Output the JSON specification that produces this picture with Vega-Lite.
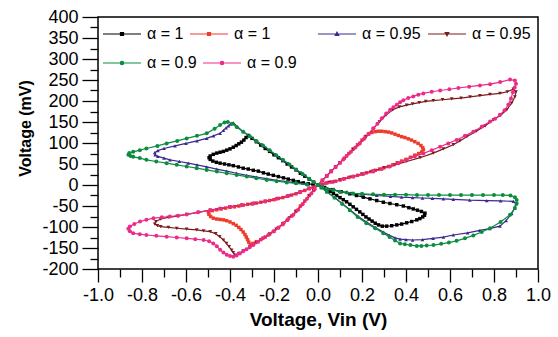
{
"$schema": "https://vega.github.io/schema/vega-lite/v6.json",
"width": 440, "height": 252,
"autosize": {"type": "none"},
"padding": {"left": 98, "top": 17, "right": 20, "bottom": 68},
"background": "white",
"config": {
 "view": {"stroke": "black", "strokeWidth": 1.5},
 "font": "Liberation Sans",
 "axis": {"grid": false, "domain": false, "tickColor": "black", "tickWidth": 1.3, "labelColor": "black", "labelFont": "Liberation Sans", "labelFontSize": 18, "titleColor": "black", "titleFont": "Liberation Sans", "titleFontWeight": "bold"},
 "legend": {"orient": "none", "direction": "horizontal", "padding": 0, "labelFont": "Liberation Sans", "labelFontSize": 16, "labelColor": "black", "labelOffset": 5, "columnPadding": 3, "symbolSize": 1444, "symbolStrokeWidth": 1.2, "title": null}
},
"datasets": {"d": [
{"s":"k","i":0,"x":0,"y":0},{"s":"k","i":1,"x":0.03,"y":-6},{"s":"k","i":2,"x":0.068,"y":-11},{"s":"k","i":3,"x":0.105,"y":-16},{"s":"k","i":4,"x":0.145,"y":-21},{"s":"k","i":5,"x":0.175,"y":-25},{"s":"k","i":6,"x":0.206,"y":-29},{"s":"k","i":7,"x":0.236,"y":-33},{"s":"k","i":8,"x":0.267,"y":-37},{"s":"k","i":9,"x":0.297,"y":-41},{"s":"k","i":10,"x":0.327,"y":-44},{"s":"k","i":11,"x":0.358,"y":-47},{"s":"k","i":12,"x":0.388,"y":-50},{"s":"k","i":13,"x":0.413,"y":-54},{"s":"k","i":14,"x":0.433,"y":-57},{"s":"k","i":15,"x":0.452,"y":-60},{"s":"k","i":16,"x":0.47,"y":-63},{"s":"k","i":17,"x":0.486,"y":-67},{"s":"k","i":18,"x":0.484,"y":-72},{"s":"k","i":19,"x":0.476,"y":-76},{"s":"k","i":20,"x":0.463,"y":-80},{"s":"k","i":21,"x":0.449,"y":-83},{"s":"k","i":22,"x":0.426,"y":-87},{"s":"k","i":23,"x":0.403,"y":-90},{"s":"k","i":24,"x":0.38,"y":-93},{"s":"k","i":25,"x":0.358,"y":-95},{"s":"k","i":26,"x":0.335,"y":-97},{"s":"k","i":27,"x":0.312,"y":-98},{"s":"k","i":28,"x":0.292,"y":-98},{"s":"k","i":29,"x":0.275,"y":-95},{"s":"k","i":30,"x":0.26,"y":-91},{"s":"k","i":31,"x":0.246,"y":-86},{"s":"k","i":32,"x":0.232,"y":-81},{"s":"k","i":33,"x":0.218,"y":-76},{"s":"k","i":34,"x":0.204,"y":-70},{"s":"k","i":35,"x":0.19,"y":-64},{"s":"k","i":36,"x":0.175,"y":-58},{"s":"k","i":37,"x":0.16,"y":-52},{"s":"k","i":38,"x":0.145,"y":-46},{"s":"k","i":39,"x":0.13,"y":-40},{"s":"k","i":40,"x":0.115,"y":-35},{"s":"k","i":41,"x":0.1,"y":-30},{"s":"k","i":42,"x":0.085,"y":-25},{"s":"k","i":43,"x":0.07,"y":-20},{"s":"k","i":44,"x":0.055,"y":-15},{"s":"k","i":45,"x":0.04,"y":-11},{"s":"k","i":46,"x":0.02,"y":-5},{"s":"k","i":47,"x":0,"y":0},{"s":"k","i":48,"x":-0.02,"y":7},{"s":"k","i":49,"x":-0.04,"y":14},{"s":"k","i":50,"x":-0.06,"y":21},{"s":"k","i":51,"x":-0.08,"y":28},{"s":"k","i":52,"x":-0.1,"y":36},{"s":"k","i":53,"x":-0.12,"y":43},{"s":"k","i":54,"x":-0.14,"y":50},{"s":"k","i":55,"x":-0.16,"y":58},{"s":"k","i":56,"x":-0.18,"y":65},{"s":"k","i":57,"x":-0.2,"y":72},{"s":"k","i":58,"x":-0.22,"y":80},{"s":"k","i":59,"x":-0.24,"y":87},{"s":"k","i":60,"x":-0.26,"y":95},{"s":"k","i":61,"x":-0.28,"y":103},{"s":"k","i":62,"x":-0.3,"y":111},{"s":"k","i":63,"x":-0.317,"y":118},{"s":"k","i":64,"x":-0.327,"y":113},{"s":"k","i":65,"x":-0.337,"y":107},{"s":"k","i":66,"x":-0.348,"y":102},{"s":"k","i":67,"x":-0.36,"y":98},{"s":"k","i":68,"x":-0.372,"y":94},{"s":"k","i":69,"x":-0.385,"y":90},{"s":"k","i":70,"x":-0.4,"y":86},{"s":"k","i":71,"x":-0.415,"y":83},{"s":"k","i":72,"x":-0.43,"y":80},{"s":"k","i":73,"x":-0.445,"y":78},{"s":"k","i":74,"x":-0.46,"y":76},{"s":"k","i":75,"x":-0.476,"y":73},{"s":"k","i":76,"x":-0.49,"y":69},{"s":"k","i":77,"x":-0.495,"y":65},{"s":"k","i":78,"x":-0.49,"y":61},{"s":"k","i":79,"x":-0.478,"y":57},{"s":"k","i":80,"x":-0.462,"y":54},{"s":"k","i":81,"x":-0.445,"y":52},{"s":"k","i":82,"x":-0.425,"y":50},{"s":"k","i":83,"x":-0.405,"y":48},{"s":"k","i":84,"x":-0.385,"y":46},{"s":"k","i":85,"x":-0.362,"y":43},{"s":"k","i":86,"x":-0.34,"y":40},{"s":"k","i":87,"x":-0.317,"y":38},{"s":"k","i":88,"x":-0.294,"y":35},{"s":"k","i":89,"x":-0.271,"y":33},{"s":"k","i":90,"x":-0.248,"y":29},{"s":"k","i":91,"x":-0.226,"y":26},{"s":"k","i":92,"x":-0.203,"y":23},{"s":"k","i":93,"x":-0.18,"y":20},{"s":"k","i":94,"x":-0.157,"y":17},{"s":"k","i":95,"x":-0.135,"y":14},{"s":"k","i":96,"x":-0.112,"y":11},{"s":"k","i":97,"x":-0.09,"y":8},{"s":"k","i":98,"x":-0.067,"y":5},{"s":"k","i":99,"x":-0.044,"y":3},{"s":"k","i":100,"x":-0.022,"y":1},
{"s":"r","i":0,"x":0,"y":0},{"s":"r","i":1,"x":0.02,"y":11},{"s":"r","i":2,"x":0.04,"y":21},{"s":"r","i":3,"x":0.06,"y":32},{"s":"r","i":4,"x":0.08,"y":43},{"s":"r","i":5,"x":0.1,"y":53},{"s":"r","i":6,"x":0.12,"y":64},{"s":"r","i":7,"x":0.14,"y":75},{"s":"r","i":8,"x":0.16,"y":86},{"s":"r","i":9,"x":0.18,"y":96},{"s":"r","i":10,"x":0.2,"y":107},{"s":"r","i":11,"x":0.215,"y":115},{"s":"r","i":12,"x":0.23,"y":121},{"s":"r","i":13,"x":0.245,"y":125},{"s":"r","i":14,"x":0.26,"y":127},{"s":"r","i":15,"x":0.275,"y":128},{"s":"r","i":16,"x":0.29,"y":128},{"s":"r","i":17,"x":0.305,"y":127},{"s":"r","i":18,"x":0.32,"y":126},{"s":"r","i":19,"x":0.335,"y":124},{"s":"r","i":20,"x":0.35,"y":121},{"s":"r","i":21,"x":0.365,"y":118},{"s":"r","i":22,"x":0.38,"y":115},{"s":"r","i":23,"x":0.395,"y":113},{"s":"r","i":24,"x":0.41,"y":110},{"s":"r","i":25,"x":0.425,"y":107},{"s":"r","i":26,"x":0.44,"y":103},{"s":"r","i":27,"x":0.455,"y":99},{"s":"r","i":28,"x":0.468,"y":94},{"s":"r","i":29,"x":0.476,"y":89},{"s":"r","i":30,"x":0.479,"y":84},{"s":"r","i":31,"x":0.472,"y":79},{"s":"r","i":32,"x":0.458,"y":75},{"s":"r","i":33,"x":0.44,"y":71},{"s":"r","i":34,"x":0.42,"y":66},{"s":"r","i":35,"x":0.4,"y":61},{"s":"r","i":36,"x":0.38,"y":57},{"s":"r","i":37,"x":0.36,"y":53},{"s":"r","i":38,"x":0.34,"y":48},{"s":"r","i":39,"x":0.32,"y":44},{"s":"r","i":40,"x":0.3,"y":41},{"s":"r","i":41,"x":0.28,"y":38},{"s":"r","i":42,"x":0.26,"y":35},{"s":"r","i":43,"x":0.24,"y":32},{"s":"r","i":44,"x":0.22,"y":29},{"s":"r","i":45,"x":0.2,"y":26},{"s":"r","i":46,"x":0.18,"y":23},{"s":"r","i":47,"x":0.16,"y":20},{"s":"r","i":48,"x":0.14,"y":18},{"s":"r","i":49,"x":0.12,"y":15},{"s":"r","i":50,"x":0.1,"y":12},{"s":"r","i":51,"x":0.08,"y":9},{"s":"r","i":52,"x":0.06,"y":7},{"s":"r","i":53,"x":0.04,"y":5},{"s":"r","i":54,"x":0.02,"y":2},{"s":"r","i":55,"x":0,"y":0},{"s":"r","i":56,"x":-0.02,"y":-13},{"s":"r","i":57,"x":-0.04,"y":-25},{"s":"r","i":58,"x":-0.06,"y":-38},{"s":"r","i":59,"x":-0.08,"y":-50},{"s":"r","i":60,"x":-0.1,"y":-62},{"s":"r","i":61,"x":-0.12,"y":-74},{"s":"r","i":62,"x":-0.14,"y":-84},{"s":"r","i":63,"x":-0.16,"y":-94},{"s":"r","i":64,"x":-0.18,"y":-102},{"s":"r","i":65,"x":-0.2,"y":-110},{"s":"r","i":66,"x":-0.22,"y":-117},{"s":"r","i":67,"x":-0.24,"y":-124},{"s":"r","i":68,"x":-0.26,"y":-130},{"s":"r","i":69,"x":-0.28,"y":-135},{"s":"r","i":70,"x":-0.295,"y":-139},{"s":"r","i":71,"x":-0.308,"y":-141},{"s":"r","i":72,"x":-0.315,"y":-136},{"s":"r","i":73,"x":-0.32,"y":-130},{"s":"r","i":74,"x":-0.326,"y":-124},{"s":"r","i":75,"x":-0.332,"y":-118},{"s":"r","i":76,"x":-0.34,"y":-112},{"s":"r","i":77,"x":-0.35,"y":-106},{"s":"r","i":78,"x":-0.36,"y":-101},{"s":"r","i":79,"x":-0.372,"y":-96},{"s":"r","i":80,"x":-0.385,"y":-92},{"s":"r","i":81,"x":-0.4,"y":-88},{"s":"r","i":82,"x":-0.415,"y":-85},{"s":"r","i":83,"x":-0.43,"y":-83},{"s":"r","i":84,"x":-0.445,"y":-82},{"s":"r","i":85,"x":-0.46,"y":-81},{"s":"r","i":86,"x":-0.476,"y":-79},{"s":"r","i":87,"x":-0.488,"y":-75},{"s":"r","i":88,"x":-0.496,"y":-70},{"s":"r","i":89,"x":-0.498,"y":-65},{"s":"r","i":90,"x":-0.48,"y":-61},{"s":"r","i":91,"x":-0.46,"y":-59},{"s":"r","i":92,"x":-0.44,"y":-57},{"s":"r","i":93,"x":-0.42,"y":-55},{"s":"r","i":94,"x":-0.4,"y":-53},{"s":"r","i":95,"x":-0.38,"y":-52},{"s":"r","i":96,"x":-0.36,"y":-50},{"s":"r","i":97,"x":-0.34,"y":-48},{"s":"r","i":98,"x":-0.32,"y":-46},{"s":"r","i":99,"x":-0.3,"y":-45},{"s":"r","i":100,"x":-0.28,"y":-43},{"s":"r","i":101,"x":-0.26,"y":-41},{"s":"r","i":102,"x":-0.24,"y":-39},{"s":"r","i":103,"x":-0.22,"y":-37},{"s":"r","i":104,"x":-0.2,"y":-35},{"s":"r","i":105,"x":-0.18,"y":-32},{"s":"r","i":106,"x":-0.16,"y":-30},{"s":"r","i":107,"x":-0.14,"y":-27},{"s":"r","i":108,"x":-0.12,"y":-24},{"s":"r","i":109,"x":-0.1,"y":-21},{"s":"r","i":110,"x":-0.08,"y":-17},{"s":"r","i":111,"x":-0.06,"y":-13},{"s":"r","i":112,"x":-0.04,"y":-9},{"s":"r","i":113,"x":-0.02,"y":-5},
{"s":"m","i":0,"x":0,"y":0},{"s":"m","i":1,"x":0.02,"y":11},{"s":"m","i":2,"x":0.04,"y":22},{"s":"m","i":3,"x":0.06,"y":33},{"s":"m","i":4,"x":0.08,"y":43},{"s":"m","i":5,"x":0.1,"y":53},{"s":"m","i":6,"x":0.115,"y":61},{"s":"m","i":7,"x":0.13,"y":69},{"s":"m","i":8,"x":0.15,"y":79},{"s":"m","i":9,"x":0.17,"y":89},{"s":"m","i":10,"x":0.19,"y":99},{"s":"m","i":11,"x":0.21,"y":110},{"s":"m","i":12,"x":0.23,"y":122},{"s":"m","i":13,"x":0.252,"y":135},{"s":"m","i":14,"x":0.27,"y":146},{"s":"m","i":15,"x":0.29,"y":159},{"s":"m","i":16,"x":0.31,"y":170},{"s":"m","i":17,"x":0.328,"y":179},{"s":"m","i":18,"x":0.343,"y":185},{"s":"m","i":19,"x":0.358,"y":191},{"s":"m","i":20,"x":0.373,"y":197},{"s":"m","i":21,"x":0.388,"y":202},{"s":"m","i":22,"x":0.41,"y":207},{"s":"m","i":23,"x":0.433,"y":211},{"s":"m","i":24,"x":0.456,"y":215},{"s":"m","i":25,"x":0.479,"y":218},{"s":"m","i":26,"x":0.517,"y":222},{"s":"m","i":27,"x":0.555,"y":225},{"s":"m","i":28,"x":0.597,"y":228},{"s":"m","i":29,"x":0.638,"y":231},{"s":"m","i":30,"x":0.687,"y":234},{"s":"m","i":31,"x":0.736,"y":237},{"s":"m","i":32,"x":0.782,"y":240},{"s":"m","i":33,"x":0.828,"y":245},{"s":"m","i":34,"x":0.873,"y":251},{"s":"m","i":35,"x":0.895,"y":249},{"s":"m","i":36,"x":0.9,"y":241},{"s":"m","i":37,"x":0.894,"y":232},{"s":"m","i":38,"x":0.886,"y":221},{"s":"m","i":39,"x":0.877,"y":206},{"s":"m","i":40,"x":0.865,"y":191},{"s":"m","i":41,"x":0.848,"y":178},{"s":"m","i":42,"x":0.827,"y":167},{"s":"m","i":43,"x":0.805,"y":158},{"s":"m","i":44,"x":0.782,"y":151},{"s":"m","i":45,"x":0.745,"y":139},{"s":"m","i":46,"x":0.706,"y":127},{"s":"m","i":47,"x":0.668,"y":117},{"s":"m","i":48,"x":0.63,"y":107},{"s":"m","i":49,"x":0.592,"y":99},{"s":"m","i":50,"x":0.555,"y":91},{"s":"m","i":51,"x":0.517,"y":83},{"s":"m","i":52,"x":0.479,"y":75},{"s":"m","i":53,"x":0.44,"y":68},{"s":"m","i":54,"x":0.403,"y":60},{"s":"m","i":55,"x":0.365,"y":52},{"s":"m","i":56,"x":0.327,"y":44},{"s":"m","i":57,"x":0.29,"y":38},{"s":"m","i":58,"x":0.252,"y":32},{"s":"m","i":59,"x":0.206,"y":26},{"s":"m","i":60,"x":0.161,"y":20},{"s":"m","i":61,"x":0.115,"y":14},{"s":"m","i":62,"x":0.07,"y":8},{"s":"m","i":63,"x":0.035,"y":4},{"s":"m","i":64,"x":0,"y":0},{"s":"m","i":65,"x":-0.04,"y":-8},{"s":"m","i":66,"x":-0.082,"y":-17},{"s":"m","i":67,"x":-0.135,"y":-26},{"s":"m","i":68,"x":-0.188,"y":-33},{"s":"m","i":69,"x":-0.24,"y":-39},{"s":"m","i":70,"x":-0.294,"y":-44},{"s":"m","i":71,"x":-0.347,"y":-48},{"s":"m","i":72,"x":-0.4,"y":-52},{"s":"m","i":73,"x":-0.445,"y":-56},{"s":"m","i":74,"x":-0.49,"y":-60},{"s":"m","i":75,"x":-0.545,"y":-65},{"s":"m","i":76,"x":-0.597,"y":-70},{"s":"m","i":77,"x":-0.635,"y":-73},{"s":"m","i":78,"x":-0.673,"y":-75},{"s":"m","i":79,"x":-0.71,"y":-77},{"s":"m","i":80,"x":-0.748,"y":-79},{"s":"m","i":81,"x":-0.78,"y":-83},{"s":"m","i":82,"x":-0.809,"y":-87},{"s":"m","i":83,"x":-0.835,"y":-93},{"s":"m","i":84,"x":-0.855,"y":-99},{"s":"m","i":85,"x":-0.862,"y":-104},{"s":"m","i":86,"x":-0.855,"y":-110},{"s":"m","i":87,"x":-0.84,"y":-115},{"s":"m","i":88,"x":-0.81,"y":-117},{"s":"m","i":89,"x":-0.78,"y":-119},{"s":"m","i":90,"x":-0.735,"y":-121},{"s":"m","i":91,"x":-0.688,"y":-123},{"s":"m","i":92,"x":-0.642,"y":-125},{"s":"m","i":93,"x":-0.597,"y":-127},{"s":"m","i":94,"x":-0.558,"y":-129},{"s":"m","i":95,"x":-0.52,"y":-131},{"s":"m","i":96,"x":-0.495,"y":-134},{"s":"m","i":97,"x":-0.476,"y":-139},{"s":"m","i":98,"x":-0.46,"y":-146},{"s":"m","i":99,"x":-0.445,"y":-154},{"s":"m","i":100,"x":-0.43,"y":-161},{"s":"m","i":101,"x":-0.415,"y":-166},{"s":"m","i":102,"x":-0.4,"y":-169},{"s":"m","i":103,"x":-0.385,"y":-171},{"s":"m","i":104,"x":-0.37,"y":-168},{"s":"m","i":105,"x":-0.355,"y":-163},{"s":"m","i":106,"x":-0.34,"y":-158},{"s":"m","i":107,"x":-0.325,"y":-153},{"s":"m","i":108,"x":-0.31,"y":-148},{"s":"m","i":109,"x":-0.294,"y":-143},{"s":"m","i":110,"x":-0.272,"y":-135},{"s":"m","i":111,"x":-0.25,"y":-127},{"s":"m","i":112,"x":-0.226,"y":-119},{"s":"m","i":113,"x":-0.203,"y":-111},{"s":"m","i":114,"x":-0.18,"y":-101},{"s":"m","i":115,"x":-0.157,"y":-91},{"s":"m","i":116,"x":-0.135,"y":-81},{"s":"m","i":117,"x":-0.112,"y":-71},{"s":"m","i":118,"x":-0.09,"y":-59},{"s":"m","i":119,"x":-0.07,"y":-46},{"s":"m","i":120,"x":-0.05,"y":-33},{"s":"m","i":121,"x":-0.03,"y":-20},{"s":"m","i":122,"x":-0.015,"y":-10},
{"s":"w","i":0,"x":0,"y":0},{"s":"w","i":1,"x":0.02,"y":11},{"s":"w","i":2,"x":0.04,"y":22},{"s":"w","i":3,"x":0.06,"y":33},{"s":"w","i":4,"x":0.08,"y":43},{"s":"w","i":5,"x":0.1,"y":53},{"s":"w","i":6,"x":0.13,"y":69},{"s":"w","i":7,"x":0.16,"y":84},{"s":"w","i":8,"x":0.19,"y":99},{"s":"w","i":9,"x":0.22,"y":116},{"s":"w","i":10,"x":0.25,"y":133},{"s":"w","i":11,"x":0.28,"y":151},{"s":"w","i":12,"x":0.31,"y":167},{"s":"w","i":13,"x":0.34,"y":179},{"s":"w","i":14,"x":0.37,"y":186},{"s":"w","i":15,"x":0.403,"y":190},{"s":"w","i":16,"x":0.43,"y":193},{"s":"w","i":17,"x":0.46,"y":196},{"s":"w","i":18,"x":0.49,"y":199},{"s":"w","i":19,"x":0.524,"y":201},{"s":"w","i":20,"x":0.566,"y":203},{"s":"w","i":21,"x":0.608,"y":205},{"s":"w","i":22,"x":0.65,"y":207},{"s":"w","i":23,"x":0.691,"y":210},{"s":"w","i":24,"x":0.736,"y":213},{"s":"w","i":25,"x":0.782,"y":216},{"s":"w","i":26,"x":0.827,"y":218},{"s":"w","i":27,"x":0.86,"y":222},{"s":"w","i":28,"x":0.888,"y":228},{"s":"w","i":29,"x":0.9,"y":222},{"s":"w","i":30,"x":0.895,"y":210},{"s":"w","i":31,"x":0.88,"y":195},{"s":"w","i":32,"x":0.858,"y":179},{"s":"w","i":33,"x":0.83,"y":166},{"s":"w","i":34,"x":0.797,"y":155},{"s":"w","i":35,"x":0.76,"y":141},{"s":"w","i":36,"x":0.72,"y":128},{"s":"w","i":37,"x":0.676,"y":115},{"s":"w","i":38,"x":0.645,"y":105},{"s":"w","i":39,"x":0.615,"y":96},{"s":"w","i":40,"x":0.57,"y":86},{"s":"w","i":41,"x":0.524,"y":76},{"s":"w","i":42,"x":0.464,"y":65},{"s":"w","i":43,"x":0.403,"y":56},{"s":"w","i":44,"x":0.35,"y":48},{"s":"w","i":45,"x":0.3,"y":41},{"s":"w","i":46,"x":0.25,"y":33},{"s":"w","i":47,"x":0.2,"y":26},{"s":"w","i":48,"x":0.15,"y":19},{"s":"w","i":49,"x":0.1,"y":12},{"s":"w","i":50,"x":0.05,"y":6},{"s":"w","i":51,"x":0,"y":0},{"s":"w","i":52,"x":-0.04,"y":-8},{"s":"w","i":53,"x":-0.082,"y":-17},{"s":"w","i":54,"x":-0.135,"y":-26},{"s":"w","i":55,"x":-0.188,"y":-33},{"s":"w","i":56,"x":-0.24,"y":-39},{"s":"w","i":57,"x":-0.294,"y":-44},{"s":"w","i":58,"x":-0.347,"y":-48},{"s":"w","i":59,"x":-0.4,"y":-52},{"s":"w","i":60,"x":-0.445,"y":-56},{"s":"w","i":61,"x":-0.49,"y":-60},{"s":"w","i":62,"x":-0.545,"y":-65},{"s":"w","i":63,"x":-0.597,"y":-70},{"s":"w","i":64,"x":-0.64,"y":-74},{"s":"w","i":65,"x":-0.68,"y":-77},{"s":"w","i":66,"x":-0.715,"y":-81},{"s":"w","i":67,"x":-0.737,"y":-87},{"s":"w","i":68,"x":-0.742,"y":-93},{"s":"w","i":69,"x":-0.73,"y":-97},{"s":"w","i":70,"x":-0.715,"y":-99},{"s":"w","i":71,"x":-0.68,"y":-101},{"s":"w","i":72,"x":-0.642,"y":-103},{"s":"w","i":73,"x":-0.597,"y":-105},{"s":"w","i":74,"x":-0.551,"y":-107},{"s":"w","i":75,"x":-0.52,"y":-109},{"s":"w","i":76,"x":-0.49,"y":-111},{"s":"w","i":77,"x":-0.465,"y":-116},{"s":"w","i":78,"x":-0.447,"y":-123},{"s":"w","i":79,"x":-0.43,"y":-131},{"s":"w","i":80,"x":-0.416,"y":-139},{"s":"w","i":81,"x":-0.404,"y":-147},{"s":"w","i":82,"x":-0.393,"y":-155},{"s":"w","i":83,"x":-0.385,"y":-161},{"s":"w","i":84,"x":-0.377,"y":-167},{"s":"w","i":85,"x":-0.36,"y":-163},{"s":"w","i":86,"x":-0.34,"y":-157},{"s":"w","i":87,"x":-0.31,"y":-148},{"s":"w","i":88,"x":-0.28,"y":-138},{"s":"w","i":89,"x":-0.25,"y":-127},{"s":"w","i":90,"x":-0.22,"y":-117},{"s":"w","i":91,"x":-0.19,"y":-105},{"s":"w","i":92,"x":-0.16,"y":-92},{"s":"w","i":93,"x":-0.13,"y":-78},{"s":"w","i":94,"x":-0.1,"y":-64},{"s":"w","i":95,"x":-0.07,"y":-46},{"s":"w","i":96,"x":-0.04,"y":-26},{"s":"w","i":97,"x":-0.02,"y":-13},
{"s":"g","i":0,"x":0,"y":0},{"s":"g","i":1,"x":0.02,"y":-5},{"s":"g","i":2,"x":0.04,"y":-9},{"s":"g","i":3,"x":0.07,"y":-12},{"s":"g","i":4,"x":0.1,"y":-16},{"s":"g","i":5,"x":0.13,"y":-18},{"s":"g","i":6,"x":0.16,"y":-20},{"s":"g","i":7,"x":0.2,"y":-21},{"s":"g","i":8,"x":0.25,"y":-22},{"s":"g","i":9,"x":0.3,"y":-23},{"s":"g","i":10,"x":0.35,"y":-23},{"s":"g","i":11,"x":0.4,"y":-23},{"s":"g","i":12,"x":0.45,"y":-24},{"s":"g","i":13,"x":0.5,"y":-24},{"s":"g","i":14,"x":0.55,"y":-24},{"s":"g","i":15,"x":0.6,"y":-24},{"s":"g","i":16,"x":0.65,"y":-24},{"s":"g","i":17,"x":0.7,"y":-24},{"s":"g","i":18,"x":0.75,"y":-24},{"s":"g","i":19,"x":0.8,"y":-24},{"s":"g","i":20,"x":0.84,"y":-24},{"s":"g","i":21,"x":0.875,"y":-25},{"s":"g","i":22,"x":0.895,"y":-29},{"s":"g","i":23,"x":0.903,"y":-36},{"s":"g","i":24,"x":0.903,"y":-44},{"s":"g","i":25,"x":0.895,"y":-55},{"s":"g","i":26,"x":0.873,"y":-71},{"s":"g","i":27,"x":0.83,"y":-88},{"s":"g","i":28,"x":0.782,"y":-103},{"s":"g","i":29,"x":0.744,"y":-112},{"s":"g","i":30,"x":0.706,"y":-120},{"s":"g","i":31,"x":0.668,"y":-127},{"s":"g","i":32,"x":0.63,"y":-133},{"s":"g","i":33,"x":0.595,"y":-137},{"s":"g","i":34,"x":0.56,"y":-140},{"s":"g","i":35,"x":0.525,"y":-143},{"s":"g","i":36,"x":0.494,"y":-144},{"s":"g","i":37,"x":0.47,"y":-145},{"s":"g","i":38,"x":0.449,"y":-145},{"s":"g","i":39,"x":0.42,"y":-143},{"s":"g","i":40,"x":0.395,"y":-141},{"s":"g","i":41,"x":0.373,"y":-139},{"s":"g","i":42,"x":0.35,"y":-132},{"s":"g","i":43,"x":0.325,"y":-124},{"s":"g","i":44,"x":0.297,"y":-115},{"s":"g","i":45,"x":0.26,"y":-103},{"s":"g","i":46,"x":0.22,"y":-91},{"s":"g","i":47,"x":0.18,"y":-76},{"s":"g","i":48,"x":0.145,"y":-60},{"s":"g","i":49,"x":0.11,"y":-45},{"s":"g","i":50,"x":0.075,"y":-30},{"s":"g","i":51,"x":0.04,"y":-16},{"s":"g","i":52,"x":0.015,"y":-6},{"s":"g","i":53,"x":0,"y":0},{"s":"g","i":54,"x":-0.02,"y":7},{"s":"g","i":55,"x":-0.04,"y":15},{"s":"g","i":56,"x":-0.07,"y":26},{"s":"g","i":57,"x":-0.1,"y":37},{"s":"g","i":58,"x":-0.13,"y":49},{"s":"g","i":59,"x":-0.16,"y":60},{"s":"g","i":60,"x":-0.19,"y":71},{"s":"g","i":61,"x":-0.22,"y":83},{"s":"g","i":62,"x":-0.25,"y":94},{"s":"g","i":63,"x":-0.28,"y":105},{"s":"g","i":64,"x":-0.31,"y":116},{"s":"g","i":65,"x":-0.34,"y":127},{"s":"g","i":66,"x":-0.37,"y":138},{"s":"g","i":67,"x":-0.39,"y":146},{"s":"g","i":68,"x":-0.41,"y":150},{"s":"g","i":69,"x":-0.425,"y":149},{"s":"g","i":70,"x":-0.445,"y":143},{"s":"g","i":71,"x":-0.47,"y":134},{"s":"g","i":72,"x":-0.506,"y":123},{"s":"g","i":73,"x":-0.55,"y":117},{"s":"g","i":74,"x":-0.597,"y":111},{"s":"g","i":75,"x":-0.64,"y":105},{"s":"g","i":76,"x":-0.688,"y":99},{"s":"g","i":77,"x":-0.73,"y":93},{"s":"g","i":78,"x":-0.78,"y":87},{"s":"g","i":79,"x":-0.81,"y":83},{"s":"g","i":80,"x":-0.84,"y":79},{"s":"g","i":81,"x":-0.858,"y":76},{"s":"g","i":82,"x":-0.862,"y":72},{"s":"g","i":83,"x":-0.852,"y":69},{"s":"g","i":84,"x":-0.84,"y":67},{"s":"g","i":85,"x":-0.81,"y":64},{"s":"g","i":86,"x":-0.78,"y":60},{"s":"g","i":87,"x":-0.735,"y":56},{"s":"g","i":88,"x":-0.688,"y":52},{"s":"g","i":89,"x":-0.642,"y":48},{"s":"g","i":90,"x":-0.597,"y":44},{"s":"g","i":91,"x":-0.551,"y":40},{"s":"g","i":92,"x":-0.506,"y":36},{"s":"g","i":93,"x":-0.46,"y":32},{"s":"g","i":94,"x":-0.415,"y":28},{"s":"g","i":95,"x":-0.37,"y":24},{"s":"g","i":96,"x":-0.324,"y":20},{"s":"g","i":97,"x":-0.28,"y":16},{"s":"g","i":98,"x":-0.233,"y":12},{"s":"g","i":99,"x":-0.188,"y":9},{"s":"g","i":100,"x":-0.142,"y":6},{"s":"g","i":101,"x":-0.1,"y":4},{"s":"g","i":102,"x":-0.05,"y":1},
{"s":"b","i":0,"x":0,"y":0},{"s":"b","i":1,"x":0.02,"y":-5},{"s":"b","i":2,"x":0.05,"y":-10},{"s":"b","i":3,"x":0.1,"y":-15},{"s":"b","i":4,"x":0.15,"y":-19},{"s":"b","i":5,"x":0.2,"y":-22},{"s":"b","i":6,"x":0.267,"y":-25},{"s":"b","i":7,"x":0.33,"y":-27},{"s":"b","i":8,"x":0.38,"y":-29},{"s":"b","i":9,"x":0.43,"y":-30},{"s":"b","i":10,"x":0.475,"y":-31},{"s":"b","i":11,"x":0.52,"y":-32},{"s":"b","i":12,"x":0.57,"y":-33},{"s":"b","i":13,"x":0.615,"y":-34},{"s":"b","i":14,"x":0.69,"y":-36},{"s":"b","i":15,"x":0.767,"y":-37},{"s":"b","i":16,"x":0.83,"y":-38},{"s":"b","i":17,"x":0.888,"y":-39},{"s":"b","i":18,"x":0.9,"y":-45},{"s":"b","i":19,"x":0.895,"y":-55},{"s":"b","i":20,"x":0.88,"y":-68},{"s":"b","i":21,"x":0.855,"y":-85},{"s":"b","i":22,"x":0.827,"y":-98},{"s":"b","i":23,"x":0.78,"y":-104},{"s":"b","i":24,"x":0.736,"y":-108},{"s":"b","i":25,"x":0.68,"y":-114},{"s":"b","i":26,"x":0.615,"y":-119},{"s":"b","i":27,"x":0.57,"y":-124},{"s":"b","i":28,"x":0.523,"y":-127},{"s":"b","i":29,"x":0.475,"y":-130},{"s":"b","i":30,"x":0.43,"y":-131},{"s":"b","i":31,"x":0.4,"y":-130},{"s":"b","i":32,"x":0.373,"y":-129},{"s":"b","i":33,"x":0.35,"y":-126},{"s":"b","i":34,"x":0.325,"y":-120},{"s":"b","i":35,"x":0.297,"y":-112},{"s":"b","i":36,"x":0.26,"y":-101},{"s":"b","i":37,"x":0.22,"y":-88},{"s":"b","i":38,"x":0.18,"y":-74},{"s":"b","i":39,"x":0.145,"y":-59},{"s":"b","i":40,"x":0.11,"y":-44},{"s":"b","i":41,"x":0.075,"y":-30},{"s":"b","i":42,"x":0.04,"y":-16},{"s":"b","i":43,"x":0.015,"y":-6},{"s":"b","i":44,"x":0,"y":0},{"s":"b","i":45,"x":-0.02,"y":7},{"s":"b","i":46,"x":-0.04,"y":15},{"s":"b","i":47,"x":-0.07,"y":26},{"s":"b","i":48,"x":-0.1,"y":37},{"s":"b","i":49,"x":-0.13,"y":49},{"s":"b","i":50,"x":-0.16,"y":60},{"s":"b","i":51,"x":-0.19,"y":71},{"s":"b","i":52,"x":-0.22,"y":83},{"s":"b","i":53,"x":-0.25,"y":94},{"s":"b","i":54,"x":-0.28,"y":105},{"s":"b","i":55,"x":-0.31,"y":116},{"s":"b","i":56,"x":-0.34,"y":127},{"s":"b","i":57,"x":-0.365,"y":138},{"s":"b","i":58,"x":-0.385,"y":148},{"s":"b","i":59,"x":-0.397,"y":145},{"s":"b","i":60,"x":-0.407,"y":141},{"s":"b","i":61,"x":-0.418,"y":136},{"s":"b","i":62,"x":-0.43,"y":130},{"s":"b","i":63,"x":-0.445,"y":123},{"s":"b","i":64,"x":-0.475,"y":117},{"s":"b","i":65,"x":-0.506,"y":111},{"s":"b","i":66,"x":-0.55,"y":105},{"s":"b","i":67,"x":-0.6,"y":99},{"s":"b","i":68,"x":-0.65,"y":93},{"s":"b","i":69,"x":-0.7,"y":87},{"s":"b","i":70,"x":-0.728,"y":82},{"s":"b","i":71,"x":-0.742,"y":77},{"s":"b","i":72,"x":-0.74,"y":72},{"s":"b","i":73,"x":-0.728,"y":68},{"s":"b","i":74,"x":-0.7,"y":64},{"s":"b","i":75,"x":-0.673,"y":60},{"s":"b","i":76,"x":-0.63,"y":56},{"s":"b","i":77,"x":-0.59,"y":52},{"s":"b","i":78,"x":-0.55,"y":48},{"s":"b","i":79,"x":-0.506,"y":43},{"s":"b","i":80,"x":-0.46,"y":38},{"s":"b","i":81,"x":-0.415,"y":33},{"s":"b","i":82,"x":-0.37,"y":28},{"s":"b","i":83,"x":-0.324,"y":23},{"s":"b","i":84,"x":-0.28,"y":19},{"s":"b","i":85,"x":-0.233,"y":15},{"s":"b","i":86,"x":-0.188,"y":11},{"s":"b","i":87,"x":-0.142,"y":8},{"s":"b","i":88,"x":-0.1,"y":5},{"s":"b","i":89,"x":-0.05,"y":2}
]},
"data": {"name": "d"},
"layer": [
 {
  "transform": [{"filter": "datum.s === 'k' || datum.s === 'r'"}],
  "encoding": {
   "x": {"field": "x", "type": "quantitative", "scale": {"domain": [-1, 1], "nice": false, "zero": false}, "axis": {"orient": "bottom", "values": [-1,-0.8,-0.6,-0.4,-0.2,0,0.2,0.4,0.6,0.8,1], "format": ".1f", "labelExpr": "replace(datum.label, '−', '-')", "tickSize": 13, "labelPadding": 4, "labelFlush": false, "labelOverlap": false, "title": "Voltage, Vin (V)", "titleFontSize": 19, "titlePadding": 6}},
   "y": {"field": "y", "type": "quantitative", "scale": {"domain": [-200, 400], "nice": false, "zero": false}, "axis": {"orient": "left", "values": [-200,-150,-100,-50,0,50,100,150,200,250,300,350,400], "format": "d", "labelExpr": "replace(datum.label, '−', '-')", "tickSize": 16, "labelPadding": 4, "labelFlush": false, "labelOverlap": false, "title": "Voltage (mV)", "titleFontSize": 16, "titlePadding": 8, "titleY": 111}},
   "color": {"field": "s", "type": "nominal", "scale": {"domain": ["k", "r"], "range": ["#000000", "#ef3b2c"]}, "legend": {"legendX": 4, "legendY": -3, "labelExpr": "'α = 1'", "symbolType": "M-1,0H1M-0.08,-0.08H0.08V0.08H-0.08Z"}}
  },
  "layer": [
   {"mark": {"type": "line", "strokeWidth": 1.2}, "encoding": {"order": {"field": "i", "type": "quantitative"}}},
   {"mark": {"type": "point", "shape": "square", "filled": true, "size": 12, "opacity": 1}}
  ]
 },
 {
  "transform": [{"filter": "datum.s === 'b'"}],
  "encoding": {
   "x": {"field": "x", "type": "quantitative", "scale": {"domain": [-1, 1], "nice": false, "zero": false}, "axis": {"orient": "bottom", "values": [-0.9,-0.7,-0.5,-0.3,-0.1,0.1,0.3,0.5,0.7,0.9], "labels": false, "tickSize": 8, "title": null}},
   "y": {"field": "y", "type": "quantitative", "scale": {"domain": [-200, 400], "nice": false, "zero": false}, "axis": {"orient": "left", "values": [-175,-125,-75,-25,25,75,125,175,225,275,325,375], "labels": false, "tickSize": 8, "title": null}},
   "color": {"field": "s", "type": "nominal", "scale": {"domain": ["b"], "range": ["#3b2a8f"]}, "legend": {"legendX": 219, "legendY": -3, "labelExpr": "'α = 0.95'", "symbolType": "M-1,0H1M-0.09,0.07L0,-0.09L0.09,0.07Z"}}
  },
  "layer": [
   {"mark": {"type": "line", "strokeWidth": 1.2}, "encoding": {"order": {"field": "i", "type": "quantitative"}}},
   {"mark": {"type": "point", "shape": "triangle-up", "filled": true, "size": 14, "opacity": 1}}
  ]
 },
 {
  "transform": [{"filter": "datum.s === 'w'"}],
  "encoding": {
   "x": {"field": "x", "type": "quantitative", "scale": {"domain": [-1, 1], "nice": false, "zero": false}, "axis": null},
   "y": {"field": "y", "type": "quantitative", "scale": {"domain": [-200, 400], "nice": false, "zero": false}, "axis": null},
   "color": {"field": "s", "type": "nominal", "scale": {"domain": ["w"], "range": ["#7b1c1c"]}, "legend": {"legendX": 329, "legendY": -3, "labelExpr": "'α = 0.95'", "symbolType": "M-1,0H1M-0.09,-0.07L0,0.09L0.09,-0.07Z"}}
  },
  "layer": [
   {"mark": {"type": "line", "strokeWidth": 1.2}, "encoding": {"order": {"field": "i", "type": "quantitative"}}},
   {"mark": {"type": "point", "shape": "triangle-down", "filled": true, "size": 14, "opacity": 1}}
  ]
 },
 {
  "transform": [{"filter": "datum.s === 'g' || datum.s === 'm'"}],
  "encoding": {
   "x": {"field": "x", "type": "quantitative", "scale": {"domain": [-1, 1], "nice": false, "zero": false}, "axis": null},
   "y": {"field": "y", "type": "quantitative", "scale": {"domain": [-200, 400], "nice": false, "zero": false}, "axis": null},
   "color": {"field": "s", "type": "nominal", "scale": {"domain": ["g", "m"], "range": ["#0a8d3e", "#ec2a8b"]}, "legend": {"legendX": 4, "legendY": 26, "labelExpr": "'α = 0.9'", "symbolType": "M-1,0H1M-0.09,0A0.09,0.09 0 1,0 0.09,0A0.09,0.09 0 1,0 -0.09,0Z"}}
  },
  "layer": [
   {"mark": {"type": "line", "strokeWidth": 1.2}, "encoding": {"order": {"field": "i", "type": "quantitative"}}},
   {"mark": {"type": "point", "shape": "circle", "filled": true, "size": 16, "opacity": 1}}
  ]
 }
],
"resolve": {"scale": {"color": "independent"}, "axis": {"x": "independent", "y": "independent"}}
}
